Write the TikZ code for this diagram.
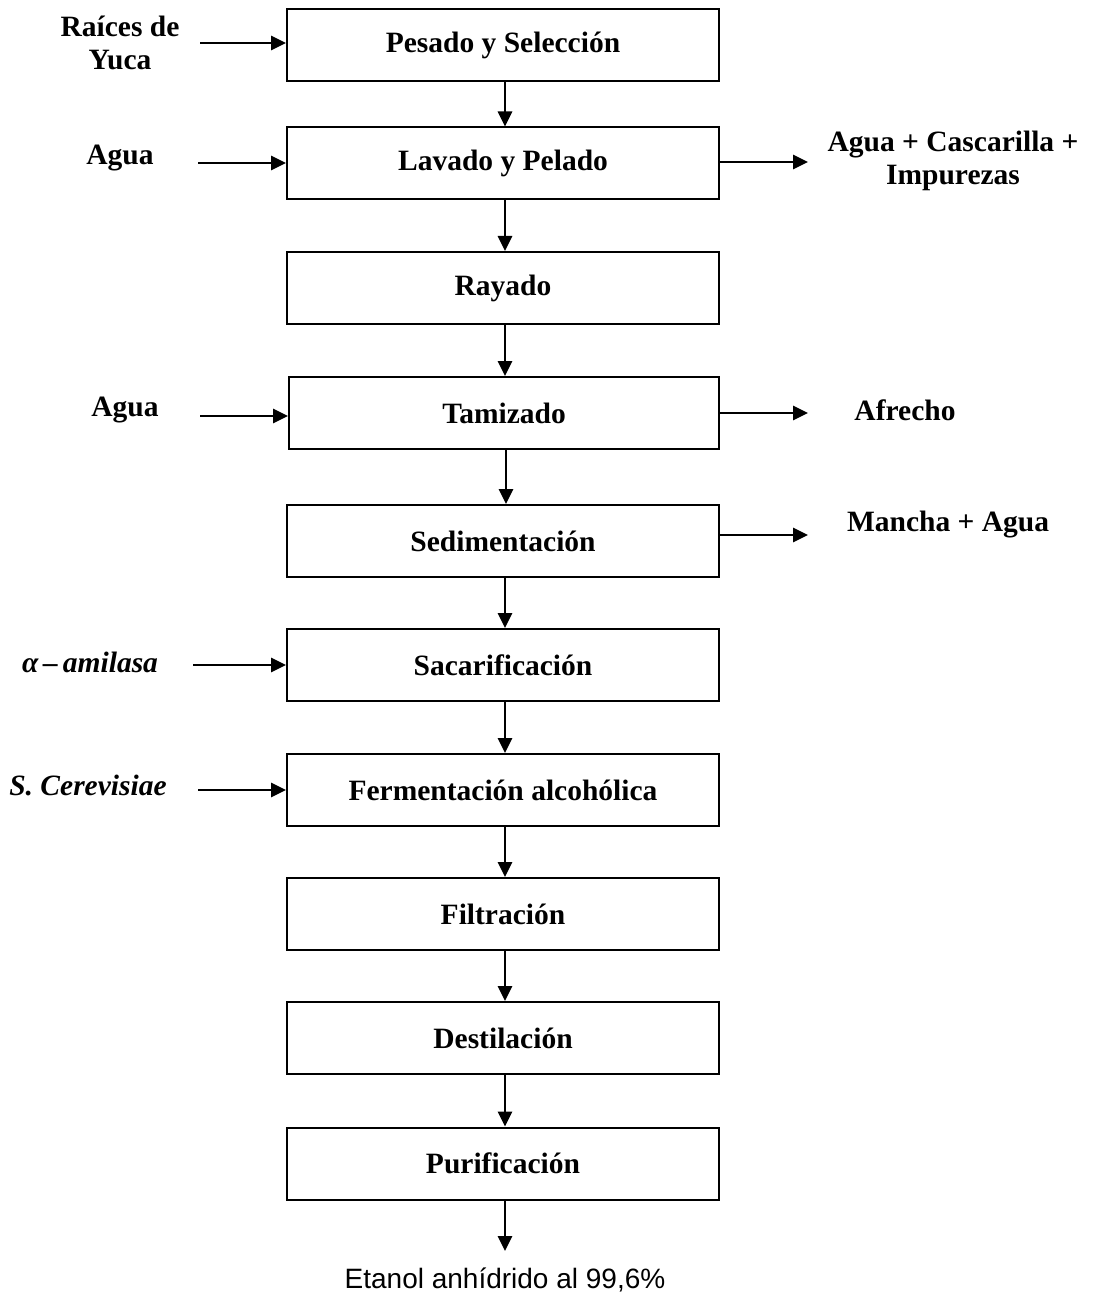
\documentclass[tikz,border=0pt]{standalone}
\usepackage{fontspec}
\setmainfont{Liberation Serif}
\newfontfamily\arialfont{Liberation Sans}
\usetikzlibrary{arrows.meta}
\begin{document}
\begin{tikzpicture}[x=1pt,y=-1pt,
  procbox/.style={draw,line width=2pt,minimum width=432pt,minimum height=72pt,inner sep=0pt,
    font=\fontsize{29.5}{33}\selectfont\bfseries},
  lbl/.style={font=\fontsize{29.5}{33}\selectfont\bfseries,align=center,inner sep=0pt},
  arr/.style={line width=2.8pt,-{Triangle[length=15pt,width=14pt]}}]
\useasboundingbox (0,0) rectangle (1096,1305);
\node[procbox] (b1) at (503,45) {Pesado y Selección};
\node[procbox] (b2) at (503,163.5) {Lavado y Pelado};
\node[procbox] (b3) at (503,288) {Rayado};
\node[procbox,minimum width=430pt] (b4) at (504,413) {Tamizado};
\node[procbox] (b5) at (503,541) {Sedimentación};
\node[procbox] (b6) at (503,665) {Sacarificación};
\node[procbox] (b7) at (503,790) {Fermentación alcohólica};
\node[procbox] (b8) at (503,914) {Filtración};
\node[procbox] (b9) at (503,1038) {Destilación};
\node[procbox] (b10) at (503,1163.5) {Purificación};
\node[font=\arialfont\fontsize{28}{32}\selectfont,inner sep=0pt] (out) at (505,1280) {Etanol anhídrido al 99,6\%};
\coordinate (outtop) at (505,1251);
% inputs
\node[lbl] (i1) at (120,43) {Raíces de\\Yuca};
\node[lbl] (i2) at (120,158) {Agua};
\node[lbl] (i4) at (125,410) {Agua};
\node[lbl,font=\fontsize{29.5}{33}\selectfont\bfseries\itshape] (i6) at (90,662) {α\,–\,amilasa};
\node[lbl,font=\fontsize{29.5}{33}\selectfont\bfseries\itshape] (i7) at (88,785) {S. Cerevisiae};
% outputs
\node[lbl] (o2) at (953,161) {Agua + Cascarilla +\\Impurezas};
\node[lbl] (o4) at (905,410) {Afrecho};
\node[lbl] (o5) at (948,525) {Mancha + Agua};
% vertical arrows
\foreach \a/\b in {b1/b2,b2/b3,b3/b4,b4/b5,b5/b6,b6/b7,b7/b8,b8/b9,b9/b10}
  \draw[arr] (\a.south) ++(2,0) coordinate (s) -- (s |- \b.north);
\draw[arr] (b10.south) ++(2,0) -- (outtop);
% horizontal arrows
\coordinate (l1) at (200,43);
\coordinate (l2) at (198,163);
\coordinate (l4) at (200,416);
\coordinate (l6) at (193,665);
\coordinate (l7) at (198,790);
\coordinate (r2) at (808,162);
\coordinate (r4) at (808,413);
\coordinate (r5) at (808,535);
\draw[arr] (l1) -- (l1 -| b1.west);
\draw[arr] (l2) -- (l2 -| b2.west);
\draw[arr] (l4) -- (l4 -| b4.west);
\draw[arr] (l6) -- (l6 -| b6.west);
\draw[arr] (l7) -- (l7 -| b7.west);
\draw[arr] (r2 -| b2.east) -- (r2);
\draw[arr] (r4 -| b4.east) -- (r4);
\draw[arr] (r5 -| b5.east) -- (r5);
\end{tikzpicture}
\end{document}
